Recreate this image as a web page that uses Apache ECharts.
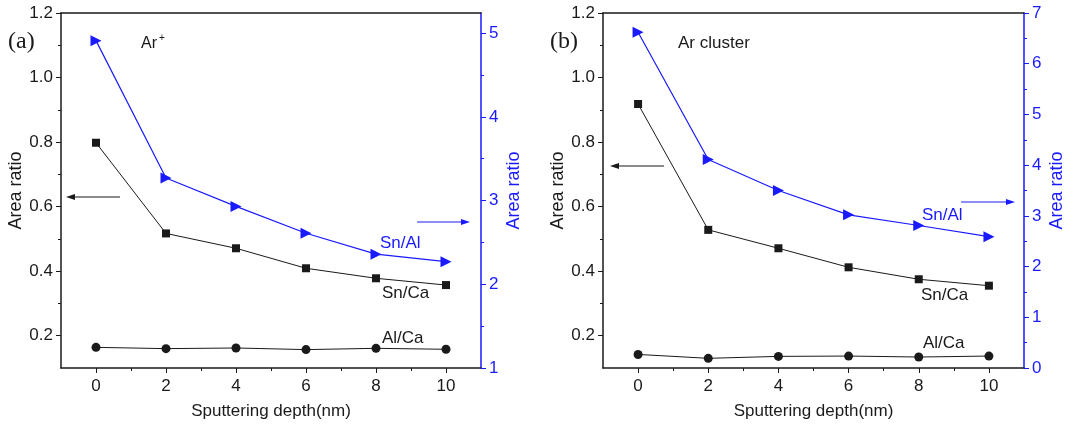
<!DOCTYPE html>
<html>
<head>
<meta charset="utf-8">
<script src="https://cdn.jsdelivr.net/npm/echarts@6/dist/echarts.min.js"></script>
<style>
  html, body { margin: 0; padding: 0; background: #fff; }
  #main { width: 1090px; height: 427px; }
</style>
</head>
<body>
<div id="main"></div>
<script>
// sputtering depth (nm)
var depth = [0, 2, 4, 6, 8, 10];

// panel (a) Ar+
var snCaA = [0.798, 0.517, 0.471, 0.409, 0.378, 0.357];
var alCaA = [0.164, 0.160, 0.162, 0.157, 0.161, 0.158];
var snAlA = [4.91, 3.27, 2.93, 2.61, 2.36, 2.27];

// panel (b) Ar cluster
var snCaB = [0.918, 0.528, 0.471, 0.412, 0.375, 0.355];
var alCaB = [0.142, 0.130, 0.136, 0.137, 0.134, 0.137];
var snAlB = [6.62, 4.11, 3.50, 3.02, 2.81, 2.59];

// ticks
var xMajor = [0, 2, 4, 6, 8, 10];
var xMinor = [1, 3, 5, 7, 9];
var leftMajor = [0.2, 0.4, 0.6, 0.8, 1.0, 1.2];
var leftMinor = [0.3, 0.5, 0.7, 0.9, 1.1];
var rightMajorA = [1, 2, 3, 4, 5];
var rightMinorA = [1.5, 2.5, 3.5, 4.5];
var rightMajorB = [0, 1, 2, 3, 4, 5, 6, 7];
var rightMinorB = [0.5, 1.5, 2.5, 3.5, 4.5, 5.5, 6.5];

var BLACK = '#1a1a1a';
var BLUE = '#1a1aff';
var FONT = 'Liberation Sans';

function pairs(xs, ys) {
  return xs.map(function (x, i) { return [x, ys[i]]; });
}

var grids = [
  { left: 61, top: 13, width: 420, height: 355 },
  { left: 603, top: 13, width: 421, height: 355 }
];

var xAxes = [], yAxes = [], series = [];

function buildPanel(g, rMin, rMax, rMajor, rMinor, snCa, alCa, snAl) {
  var xi = xAxes.length, yi = yAxes.length;
  // main x axis
  xAxes.push({
    type: 'value', gridIndex: g, min: -1, max: 11, position: 'bottom',
    name: 'Sputtering depth(nm)', nameLocation: 'middle', nameGap: 35,
    nameTextStyle: { fontFamily: FONT, fontSize: 17, color: BLACK },
    axisLine: { show: true, onZero: false, lineStyle: { color: BLACK, width: 1.5 } },
    axisTick: { show: true, length: 5, customValues: xMajor, lineStyle: { color: BLACK } },
    axisLabel: { show: true, customValues: xMajor, margin: 10, fontFamily: FONT, fontSize: 17, color: BLACK },
    splitLine: { show: false }
  });
  // minor x ticks
  xAxes.push({
    type: 'value', gridIndex: g, min: -1, max: 11, position: 'bottom',
    axisLine: { show: false, onZero: false },
    axisTick: { show: true, length: 3, customValues: xMinor, lineStyle: { color: BLACK } },
    axisLabel: { show: false }, splitLine: { show: false }
  });
  // top frame
  xAxes.push({
    type: 'value', gridIndex: g, min: -1, max: 11, position: 'top',
    axisLine: { show: true, onZero: false, lineStyle: { color: BLACK, width: 1.5 } },
    axisTick: { show: false }, axisLabel: { show: false }, splitLine: { show: false }
  });
  // left y
  yAxes.push({
    type: 'value', gridIndex: g, min: 0.1, max: 1.2, position: 'left',
    name: 'Area ratio', nameLocation: 'middle', nameGap: 34,
    nameTextStyle: { fontFamily: FONT, fontSize: 18, color: BLACK },
    axisLine: { show: true, onZero: false, lineStyle: { color: BLACK, width: 1.5 } },
    axisTick: { show: true, length: 5, customValues: leftMajor, lineStyle: { color: BLACK } },
    axisLabel: {
      show: true, customValues: leftMajor, margin: 8, fontFamily: FONT, fontSize: 17, color: BLACK,
      formatter: function (v) { return v.toFixed(1); }
    },
    splitLine: { show: false }
  });
  yAxes.push({
    type: 'value', gridIndex: g, min: 0.1, max: 1.2, position: 'left',
    axisLine: { show: false, onZero: false },
    axisTick: { show: true, length: 3, customValues: leftMinor, lineStyle: { color: BLACK } },
    axisLabel: { show: false }, splitLine: { show: false }
  });
  // right y
  yAxes.push({
    type: 'value', gridIndex: g, min: rMin, max: rMax, position: 'right',
    name: 'Area ratio', nameLocation: 'middle', nameGap: 24,
    nameTextStyle: { fontFamily: FONT, fontSize: 18, color: BLUE },
    axisLine: { show: true, onZero: false, lineStyle: { color: BLUE, width: 1.5 } },
    axisTick: { show: true, length: 5, customValues: rMajor, lineStyle: { color: BLUE } },
    axisLabel: { show: true, customValues: rMajor, margin: 8, fontFamily: FONT, fontSize: 17, color: BLUE },
    splitLine: { show: false }
  });
  yAxes.push({
    type: 'value', gridIndex: g, min: rMin, max: rMax, position: 'right',
    axisLine: { show: false, onZero: false },
    axisTick: { show: true, length: 3, customValues: rMinor, lineStyle: { color: BLUE } },
    axisLabel: { show: false }, splitLine: { show: false }
  });

  series.push({
    name: 'Sn/Ca', type: 'line', xAxisIndex: xi, yAxisIndex: yi,
    data: pairs(depth, snCa), symbol: 'rect', symbolSize: 8,
    lineStyle: { color: BLACK, width: 1 }, itemStyle: { color: BLACK }, animation: false
  });
  series.push({
    name: 'Al/Ca', type: 'line', xAxisIndex: xi, yAxisIndex: yi,
    data: pairs(depth, alCa), symbol: 'circle', symbolSize: 9,
    lineStyle: { color: BLACK, width: 1 }, itemStyle: { color: BLACK }, animation: false
  });
  series.push({
    name: 'Sn/Al', type: 'line', xAxisIndex: xi, yAxisIndex: yi + 2,
    data: pairs(depth, snAl), symbol: 'path://M0,0 L10,5 L0,10 Z', symbolSize: [11, 11],
    lineStyle: { color: BLUE, width: 1.2 }, itemStyle: { color: BLUE }, animation: false
  });
}

buildPanel(0, 1, 5.24, rightMajorA, rightMinorA, snCaA, alCaA, snAlA);
buildPanel(1, 0, 7, rightMajorB, rightMinorB, snCaB, alCaB, snAlB);

function txt(x, y, s, opt) {
  return {
    type: 'text', x: x, y: y,
    style: Object.assign({ text: s, fontFamily: FONT, fontSize: 17, fill: BLACK, textVerticalAlign: 'middle' }, opt || {})
  };
}
function arrow(x1, x2, y, color) {
  var dir = x2 > x1 ? 1 : -1;
  return [
    { type: 'line', shape: { x1: x1, y1: y, x2: x2 - dir * 6, y2: y }, style: { stroke: color, lineWidth: 1.2 } },
    { type: 'polygon', shape: { points: [[x2, y], [x2 - dir * 9, y - 3], [x2 - dir * 9, y + 3]] }, style: { fill: color } }
  ];
}

var graphics = [
  txt(8, 42, '(a)', { fontFamily: 'Liberation Serif', fontSize: 24 }),
  txt(141, 44, 'Ar', { fontSize: 16 }),
  txt(159, 38, '+', { fontSize: 10 }),
  txt(380, 243, 'Sn/Al', { fill: BLUE }),
  txt(382, 293, 'Sn/Ca'),
  txt(382, 338, 'Al/Ca'),
  txt(550, 42, '(b)', { fontFamily: 'Liberation Serif', fontSize: 24 }),
  txt(678, 43, 'Ar cluster', { fontSize: 17 }),
  txt(922, 215, 'Sn/Al', { fill: BLUE }),
  txt(921, 295, 'Sn/Ca'),
  txt(923, 343, 'Al/Ca')
].concat(arrow(120, 66, 197, BLACK))
 .concat(arrow(417, 470, 222, BLUE))
 .concat(arrow(664, 610, 166, BLACK))
 .concat(arrow(961, 1015, 202, BLUE));

var chart = echarts.init(document.getElementById('main'), null, { renderer: 'canvas' });
chart.setOption({
  animation: false,
  backgroundColor: '#fff',
  grid: grids,
  xAxis: xAxes,
  yAxis: yAxes,
  series: series,
  graphic: graphics
});
</script>
</body>
</html>
